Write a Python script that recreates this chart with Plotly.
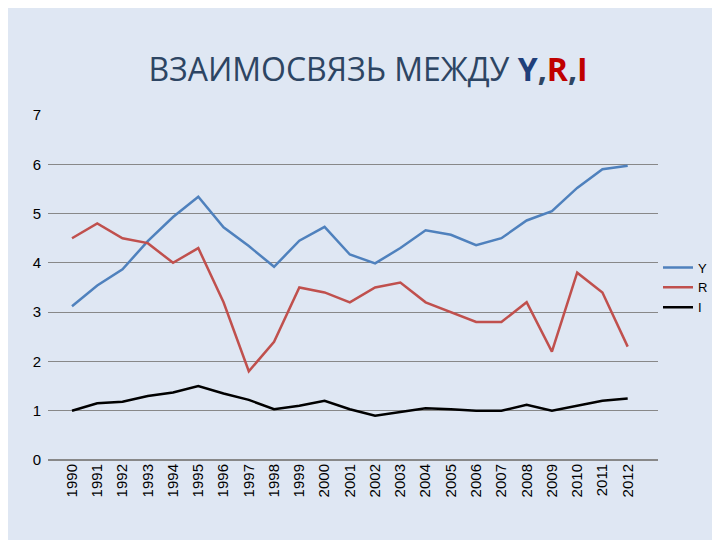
import plotly.graph_objects as go

years = [str(y) for y in range(1990, 2013)]
Y = [3.12, 3.54, 3.87, 4.44, 4.93, 5.34, 4.72, 4.34, 3.92, 4.45, 4.73, 4.17, 3.99, 4.3, 4.66, 4.57, 4.36, 4.5, 4.86, 5.05, 5.52, 5.9, 5.97]
R = [4.5, 4.8, 4.5, 4.4, 4.0, 4.3, 3.2, 1.8, 2.4, 3.5, 3.4, 3.2, 3.5, 3.6, 3.2, 3.0, 2.8, 2.8, 3.2, 2.2, 3.8, 3.4, 2.3]
I = [1.0, 1.15, 1.18, 1.3, 1.37, 1.5, 1.35, 1.22, 1.03, 1.1, 1.2, 1.03, 0.9, 0.97, 1.05, 1.03, 1.0, 1.0, 1.12, 1.0, 1.1, 1.2, 1.25]

fig = go.Figure()
for name, vals, col in [("Y", Y, "#4f81bd"), ("R", R, "#c0504d"), ("I", I, "#000000")]:
    fig.add_trace(go.Scatter(x=years, y=vals, name=name, mode="lines", line=dict(color=col, width=2.5)))

fig.update_layout(
    width=720, height=540,
    paper_bgcolor="#dfe7f3", plot_bgcolor="rgba(0,0,0,0)",
    margin=dict(l=40, r=70, t=107, b=88, autoexpand=False),
    font=dict(family="Liberation Sans", size=13, color="#000"),
    title=dict(text="ВЗАИМОСВЯЗЬ МЕЖДУ <b><span style='color:#1f3f7a'>Y</span>,<span style='color:#c00000'>R</span>,<span style='color:#c00000'>I</span></b>",
               x=0.5, y=0.885, xanchor="center", yanchor="middle", font=dict(family="Open Sans", size=32, color="#2d4563")),
    xaxis=dict(type="category", range=[-0.95, 23.2], tickangle=-90, showgrid=False, showline=False, ticks="", tickfont=dict(size=15)),
    yaxis=dict(range=[0, 7], dtick=1, gridcolor="#888", gridwidth=1, zeroline=True, zerolinecolor="#888", tickfont=dict(size=15), ticklabelstandoff=6),
    legend=dict(x=1.0, y=0.5, xanchor="left", yanchor="middle", bgcolor="rgba(0,0,0,0)", font=dict(size=13)),
)
fig.write_html("out.html")
